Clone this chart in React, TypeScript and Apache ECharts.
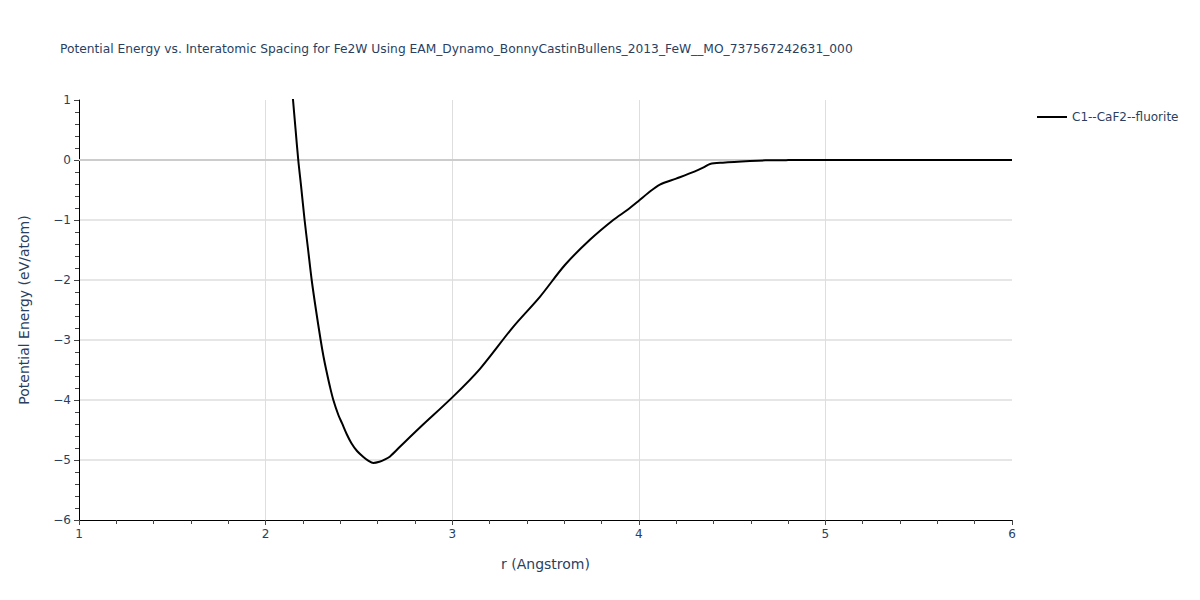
import React, { useEffect, useRef } from "react";
import * as echarts from "echarts";

const TITLE = "Potential Energy vs. Interatomic Spacing for Fe2W Using EAM_Dynamo_BonnyCastinBullens_2013_FeW__MO_737567242631_000";
const SERIES_NAME = "C1--CaF2--fluorite";
const X_NAME = "r (Angstrom)";
const Y_NAME = "Potential Energy (eV/atom)";

const rValues = [
  2.14, 2.147, 2.16, 2.175, 2.19, 2.209, 2.228, 2.247, 2.27, 2.295, 2.31, 2.325, 2.345, 2.363,
  2.39, 2.41, 2.435, 2.46, 2.49, 2.524, 2.55, 2.577, 2.61, 2.64, 2.667, 2.72, 2.827,
  3.006, 3.149, 3.327, 3.47, 3.604, 3.738, 3.863, 3.94, 4.0, 4.05, 4.113, 4.2, 4.301,
  4.35, 4.382, 4.45, 4.596, 4.68, 4.8, 5.0, 5.5, 6.0,
];
const energyValues = [
  1.25, 1.0, 0.53, 0.0, -0.43, -1.0, -1.5, -2.0, -2.5, -3.0, -3.27, -3.5, -3.78, -4.0,
  -4.25, -4.39, -4.57, -4.72, -4.85, -4.95, -5.01, -5.05, -5.03, -4.99, -4.94, -4.78, -4.46,
  -3.94, -3.48, -2.78, -2.28, -1.75, -1.33, -1.0, -0.83, -0.68, -0.55, -0.41, -0.31, -0.19,
  -0.12, -0.067, -0.045, -0.017, -0.006, -0.002, 0.0, 0.0, 0.0,
];

const X_MIN = 1;
const X_MAX = 6;
const Y_MIN = -6;
const Y_MAX = 1;

const TEXT_COLOR = "#2a3f5f";
const FONT = "DejaVu Sans";

export default function App() {
  const ref = useRef<HTMLDivElement>(null);
  useEffect(() => {
    if (!ref.current) return;
    const chart = echarts.init(ref.current, null, { renderer: "svg" });
    const data = rValues.map((r, i) => [r, energyValues[i]]);
    chart.setOption({
      animation: false,
      backgroundColor: "#ffffff",
      textStyle: { fontFamily: FONT },
      title: {
        text: TITLE,
        left: 55,
        top: 38,
        textStyle: { fontFamily: FONT, fontSize: 12.25, fontWeight: "normal", color: TEXT_COLOR },
      },
      legend: {
        left: 1032,
        top: 106,
        itemWidth: 30,
        itemHeight: 14,
        itemGap: 6,
        textStyle: { fontFamily: FONT, fontSize: 12, color: TEXT_COLOR },
        data: [{ name: SERIES_NAME, icon: "path://M0,6 L30,6 L30,8 L0,8 Z" }],
      },
      grid: { left: 79, right: 188, top: 100, bottom: 80, containLabel: false },
      xAxis: {
        type: "value",
        min: X_MIN,
        max: X_MAX,
        interval: 1,
        name: X_NAME,
        nameLocation: "middle",
        nameGap: 37,
        nameTextStyle: { fontFamily: FONT, fontSize: 14, color: TEXT_COLOR },
        axisLine: { onZero: false, lineStyle: { color: "#000", width: 1 } },
        axisTick: { show: true, length: 5, lineStyle: { color: "#444" } },
        minorTick: { show: true, splitNumber: 5, length: 4, lineStyle: { color: "#444" } },
        axisLabel: { fontFamily: FONT, fontSize: 12, color: TEXT_COLOR, margin: 8 },
        splitLine: { show: true, showMinLine: false, showMaxLine: false, lineStyle: { color: "#dedede", width: 1 } },
      },
      yAxis: {
        type: "value",
        min: Y_MIN,
        max: Y_MAX,
        interval: 1,
        name: Y_NAME,
        nameLocation: "middle",
        nameGap: 48,
        nameTextStyle: { fontFamily: FONT, fontSize: 14, color: TEXT_COLOR },
        axisLine: { show: true, onZero: false, lineStyle: { color: "#000", width: 1 } },
        axisTick: { show: true, length: 5, lineStyle: { color: "#444" } },
        minorTick: { show: true, splitNumber: 5, length: 4, lineStyle: { color: "#444" } },
        axisLabel: {
          fontFamily: FONT,
          fontSize: 12,
          color: TEXT_COLOR,
          margin: 8,
          formatter: (v: number) => String(v).replace("-", "\u2212"),
        },
        splitLine: { show: true, showMinLine: false, showMaxLine: false, lineStyle: { color: "#dedede", width: 1.5 } },
      },
      series: [
        {
          name: SERIES_NAME,
          type: "line",
          data,
          symbol: "none",
          smooth: 0.3,
          clip: true,
          lineStyle: { color: "#000000", width: 2 },
          itemStyle: { color: "#000000" },
          z: 3,
          markLine: {
            silent: true,
            symbol: "none",
            label: { show: false },
            lineStyle: { color: "#cccccc", width: 2, type: "solid" },
            data: [{ yAxis: 0 }],
            z: 1,
          },
        },
      ],
    });
    return () => chart.dispose();
  }, []);
  return <div ref={ref} style={{ width: 1200, height: 600, margin: -8 }} />;
}
